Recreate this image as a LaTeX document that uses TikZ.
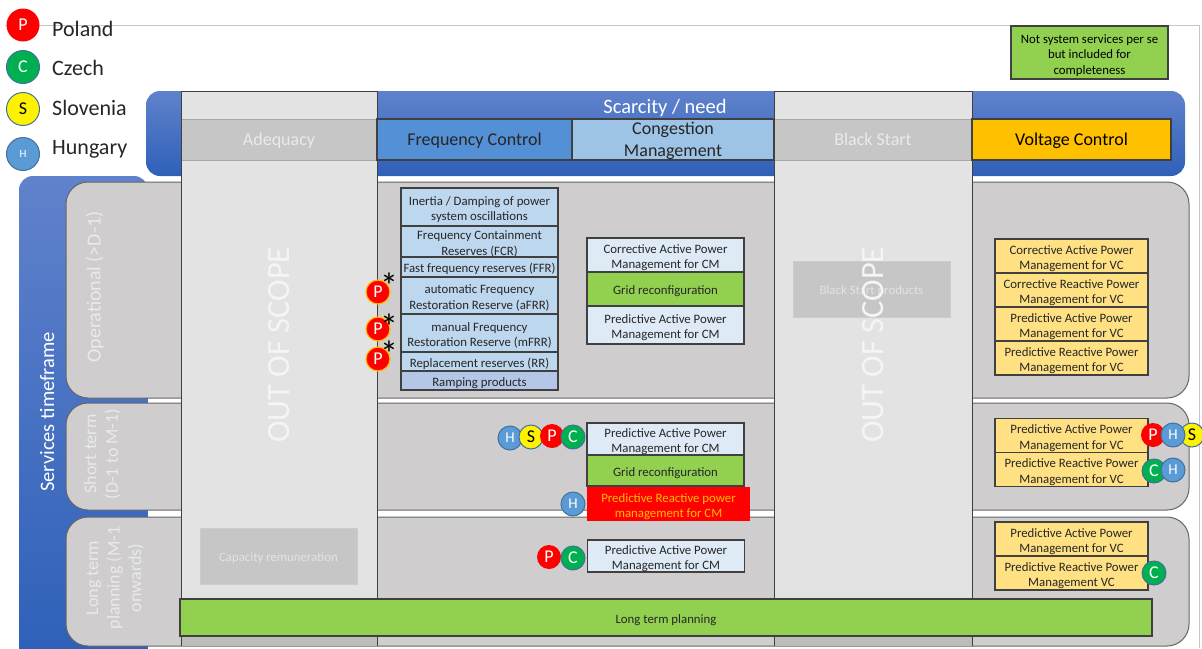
\documentclass[tikz,border=0pt]{standalone}
\usepackage{fontspec}
\setmainfont{Carlito}
\definecolor{rowgrey}{HTML}{CFCDCD}
\definecolor{colgrey}{HTML}{E3E3E3}
\definecolor{headgrey}{HTML}{C6C6C6}
\definecolor{edgegrey}{HTML}{404040}
\definecolor{textdark}{HTML}{262626}
\definecolor{grassgreen}{HTML}{92D050}
\definecolor{gold}{HTML}{FFC000}
\definecolor{vcyellow}{HTML}{FFE083}
\definecolor{hblue}{HTML}{5B9BD5}
\definecolor{cgreen}{HTML}{00B050}
\definecolor{ringblue}{HTML}{41719C}
\definecolor{bandtop}{HTML}{6082CC}
\definecolor{bandbot}{HTML}{2E60B8}
\definecolor{headblue}{HTML}{5490D5}
\definecolor{headpale}{HTML}{9DC3E6}
\definecolor{freqblue}{HTML}{BDD7EE}
\definecolor{rampblue}{HTML}{B4C7E7}
\definecolor{cmblue}{HTML}{DEEBF7}
\definecolor{fadetext}{HTML}{EAEAEA}
\tikzset{
  cellbase/.style={draw=edgegrey, line width=1.1pt, inner sep=0pt, align=center, text=textdark, text depth=0pt, font=\fontsize{12.8}{15.5}\selectfont},
  cellbox/.style={cellbase, text height=27.5pt},
  oneline/.style={text height=11pt},
  freqcell/.style={cellbox, fill=#1, minimum width=157pt},
  cmcell/.style={cellbox, fill=#1, minimum width=157pt},
  vccell/.style={cellbox, fill=vcyellow, minimum width=153pt},
  headcell/.style={cellbase, fill=#1, minimum height=41pt, font=\fontsize{18}{22}\selectfont},
  greyhead/.style={inner sep=0pt, draw=headgrey!85!black, fill=headgrey, minimum height=41pt, text=fadetext, align=center, text depth=0pt, font=\fontsize{18}{22}\selectfont},
  greybox/.style={inner sep=0pt, draw=headgrey!90!white, line width=1pt, fill=headgrey, minimum width=157pt, minimum height=56pt, text=colgrey, align=center, text depth=0pt, oneline, font=\fontsize{12.8}{15}\selectfont},
  rowlabel/.style={rotate=90, align=center, inner sep=0pt, text=fadetext, font=\fontsize{18}{21.5}\selectfont},
  scopetext/.style={rotate=90, inner sep=0pt, text=white!96!black, font=\fontsize{32.5}{38}\selectfont},
  badge/.style={circle, inner sep=0pt, minimum size=24pt, font=\fontsize{18}{18}\selectfont},
  pbadge/.style={badge, fill=red, text=white},
  ppbadge/.style={pbadge, draw=gold, line width=1.2pt},
  cbadge/.style={badge, fill=cgreen, text=white, draw=ringblue, line width=1pt},
  sbadge/.style={badge, fill=yellow, text=black, draw=ringblue, line width=1pt},
  hbadge/.style={badge, fill=hblue, text=white, draw=ringblue, line width=1pt, font=\fontsize{15}{15}\selectfont},
  legend/.style={anchor=west, inner sep=0pt, text=textdark, font=\fontsize{22}{26}\selectfont},
  star/.style={inner sep=0pt, font=\fontsize{36}{36}\selectfont}
}
\begin{document}
\begin{tikzpicture}[x=1pt,y=-1pt]
\useasboundingbox (0,0) rectangle (1202,648);
\draw [headgrey, line width=0.7pt] (5,25) -- (1199,25) -- (1199,648);

% blue bands
\shade [top color=bandtop, bottom color=bandbot, rounded corners=14pt] (146,91) rectangle (1185,176);
\shade [top color=bandtop, bottom color=bandbot, rounded corners=14pt] (19,662) rectangle (148,176);
\node [inner sep=0pt, text=white, font=\fontsize{20.5}{24}\selectfont] (scarcity) at (665,108) {Scarcity / need};
\node [inner sep=0pt, rotate=90, text=white, font=\fontsize{20.5}{24}\selectfont] (timeframe) at (47,412) {Services timeframe};

% rows
\draw [edgegrey!80, line width=1pt, fill=rowgrey, rounded corners=22pt] (66,182) rectangle (1189,398);
\draw [edgegrey!80, line width=1pt, fill=rowgrey, rounded corners=22pt] (66,403) rectangle (1189,510);
\draw [edgegrey!80, line width=1pt, fill=rowgrey, rounded corners=22pt] (66,517) rectangle (1189,646);
\node [rowlabel, font=\fontsize{20}{24}\selectfont] (operational) at (95,287) {Operational (>D-1)};
\node [rowlabel] (shortterm) at (102,454) {Short term\\(D-1 to M-1)};
\node [rowlabel] (longterm) at (115,578) {Long term\\planning (M-1\\onwards)};

% out of scope columns
\fill [colgrey] (181,91) rectangle (377,636);
\fill [colgrey] (774,91) rectangle (972,636);
\fill [headgrey!95!black] (181,636) rectangle (377,646);
\fill [headgrey!95!black] (774,636) rectangle (972,646);

% headers
\node [greyhead, minimum width=196pt] (adequacy) at (279,139.5) {Adequacy};
\node [headcell=headblue, minimum width=195pt] (freqctrl) at (474.5,139.5) {Frequency Control};
\node [headcell=headpale, minimum width=202pt] (congestion) at (673,139.5) {Congestion\\Management};
\node [greyhead, minimum width=198pt] (blackstart) at (873,139.5) {Black Start};
\node [headcell=gold, minimum width=199pt, text=black] (voltctrl) at (1071.5,139.5) {Voltage Control};
\draw [edgegrey, line width=1pt] (181,91) -- (377,91) -- (377,646);
\draw [edgegrey, line width=1pt] (181,91) -- (181,646);
\draw [edgegrey, line width=1pt] (774,91) -- (972,91) -- (972,646);
\draw [edgegrey, line width=1pt] (774,91) -- (774,646);

\node [greybox] (blackprod) at (871.5,289) {Black Start products};
\node [greybox] (capacity) at (278.5,556) {Capacity remuneration};
\node [scopetext] (scope1) at (279,345) {OUT OF SCOPE};
\node [scopetext] (scope2) at (873,345) {OUT OF SCOPE};

% frequency control
\node [freqcell=freqblue, minimum height=38pt] (inertia) at (479.5,207) {Inertia / Damping of power\\system oscillations};
\node [freqcell=freqblue, minimum height=31pt] (fcr) at (479.5,241.5) {Frequency Containment\\Reserves (FCR)};
\node [freqcell=freqblue, oneline, minimum height=20pt] (ffr) at (479.5,267) {Fast frequency reserves (FFR)};
\node [freqcell=freqblue, minimum height=37pt] (afrr) at (479.5,295.5) {automatic Frequency\\Restoration Reserve (aFRR)};
\node [freqcell=freqblue, minimum height=38pt] (mfrr) at (479.5,333) {manual Frequency\\Restoration Reserve (mFRR)};
\node [freqcell=freqblue, oneline, minimum height=19pt] (rr) at (479.5,361.5) {Replacement reserves (RR)};
\node [freqcell=rampblue, oneline, minimum height=19pt] (ramping) at (479.5,380.5) {Ramping products};

% congestion management
\node [cmcell=cmblue, minimum height=34pt] (cmcorr) at (665.5,255) {Corrective Active Power\\Management for CM};
\node [cmcell=grassgreen, oneline, minimum height=34pt] (cmgrid) at (665.5,289) {Grid reconfiguration};
\node [cmcell=cmblue, minimum height=38pt] (cmpred) at (665.5,325) {Predictive Active Power\\Management for CM};
\node [cmcell=cmblue, minimum height=32pt] (stpred) at (665.5,439) {Predictive Active Power\\Management for CM};
\node [cmcell=grassgreen, oneline, minimum height=31pt] (stgrid) at (665.5,470.5) {Grid reconfiguration};
\node [cellbox, draw=none, fill=red, text=gold, minimum width=163pt, minimum height=34pt] (streact) at (668.5,504) {Predictive Reactive power\\management for CM};
\node [cmcell=cmblue, minimum height=32pt] (ltpred) at (666,556) {Predictive Active Power\\Management for CM};

% voltage control
\node [vccell, minimum height=34pt] (vccorra) at (1071.5,256) {Corrective Active Power\\Management for VC};
\node [vccell, minimum height=34pt] (vccorrr) at (1071.5,290) {Corrective Reactive Power\\Management for VC};
\node [vccell, minimum height=34pt] (vcpreda) at (1071.5,324) {Predictive Active Power\\Management for VC};
\node [vccell, minimum height=34pt] (vcpredr) at (1071.5,358) {Predictive Reactive Power\\Management for VC};
\node [vccell, minimum height=34pt] (vcsta) at (1071.5,435.5) {Predictive Active Power\\Management for VC};
\node [vccell, minimum height=34pt] (vcstr) at (1071.5,469.5) {Predictive Reactive Power\\Management for VC};
\node [vccell, minimum height=34pt] (vclta) at (1071.5,539) {Predictive Active Power\\Management for VC};
\node [vccell, minimum height=34pt] (vcltr) at (1071.5,573) {Predictive Reactive Power\\Management VC};

\node [cellbox, oneline, fill=grassgreen, minimum width=972pt, minimum height=37pt] (ltplan) at (666,617.5) {Long term planning};
\node [cellbox, text height=43pt, fill=grassgreen, minimum width=157pt, minimum height=53pt, text=black] (note) at (1089.5,52.5) {Not system services per se\\but included for\\completeness};

% legend
\node [pbadge, minimum size=33pt] (legp) at (23,25) {P};
\node [cbadge, minimum size=33pt] (legc) at (23,67) {C};
\node [sbadge, minimum size=33pt] (legs) at (23,109) {S};
\node [hbadge, minimum size=33pt, font=\fontsize{11}{11}\selectfont] (legh) at (23,154) {H};
\node [legend] (poland) at (52,29) {Poland};
\node [legend] (czech) at (52,68) {Czech};
\node [legend] (slovenia) at (52,108) {Slovenia};
\node [legend] (hungary) at (52,149) {Hungary};

% country marks
\node [ppbadge] (pa) at (378,292) {P};
\node [ppbadge] (pb) at (378,329) {P};
\node [ppbadge] (pc) at (378,359) {P};
\node [star] (stara) at (389,286) {*};
\node [star] (starb) at (389,327) {*};
\node [star] (starc) at (389,354) {*};

\node [hbadge] (hst) at (510,438) {H};
\node [sbadge] (sst) at (531,437) {S};
\node [pbadge] (pst) at (552,436) {P};
\node [cbadge] (cst) at (573,437) {C};
\node [hbadge] (hre) at (573,504) {H};
\node [pbadge] (plt) at (549,557) {P};
\node [cbadge] (clt) at (573,558) {C};

\node [pbadge] (pvc) at (1153,435) {P};
\node [sbadge] (svc) at (1192,435) {S};
\node [hbadge] (hvc) at (1173,435) {H};
\node [cbadge] (cvc) at (1154,471) {C};
\node [hbadge] (hvb) at (1173,470) {H};
\node [cbadge] (cvl) at (1154,573) {C};
\end{tikzpicture}
\end{document}
